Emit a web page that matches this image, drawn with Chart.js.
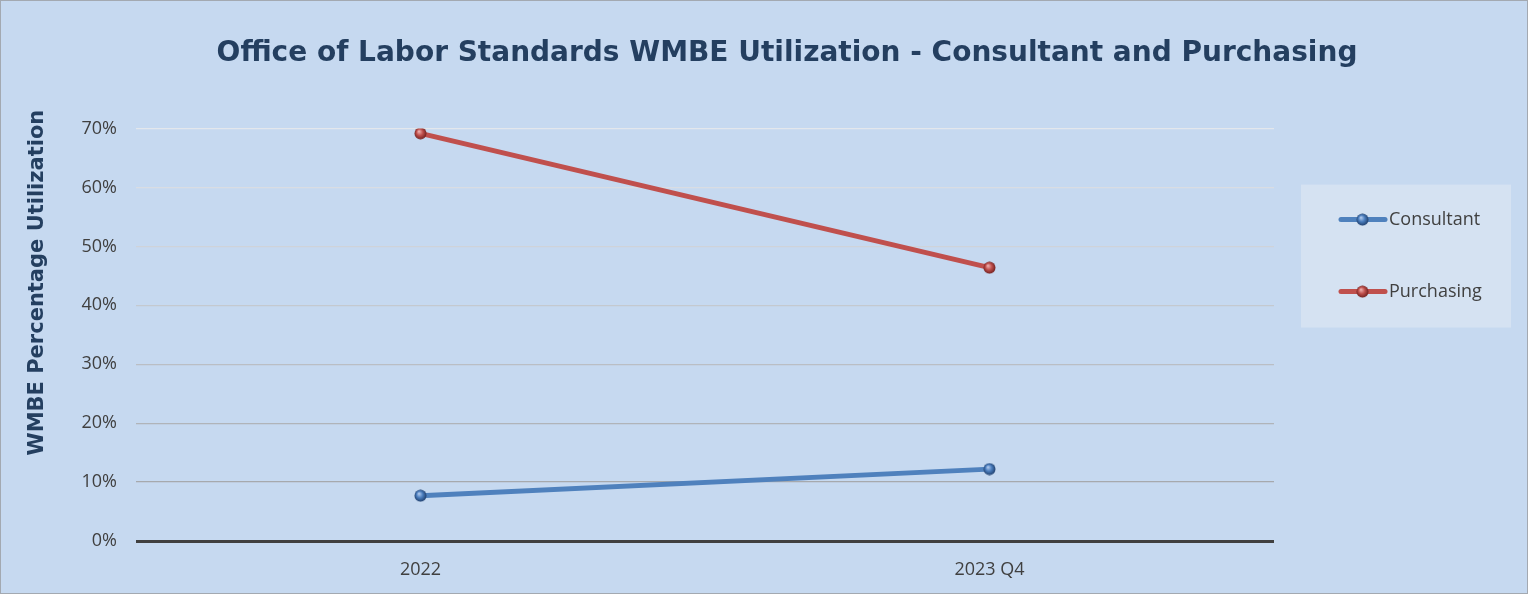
<!DOCTYPE html>
<html>
<head>
<meta charset="utf-8">
<style>
  html, body { margin: 0; padding: 0; background: #c6d9f0; }
  #wrap { width: 1528px; height: 594px; }
</style>
<script src="https://cdn.jsdelivr.net/npm/chart.js@4"></script>
</head>
<body>
<div id="wrap"><canvas id="chart" width="1528" height="594"></canvas></div>
<script>
// values
var categories = ['2022', '2023 Q4'];
var consultant = [0.077, 0.122];
var purchasing = [0.692, 0.464];
var yTicks = [0, 0.1, 0.2, 0.3, 0.4, 0.5, 0.6, 0.7];

var titleText = 'Office of Labor Standards WMBE Utilization - Consultant and Purchasing';
var yTitle = 'WMBE Percentage Utilization';

// small shaded ball used as the marker
function makeBall(base, dark, light) {
  var c = document.createElement('canvas');
  c.width = 13; c.height = 13;
  var g = c.getContext('2d');
  var grad = g.createRadialGradient(5, 4.5, 0.5, 6.5, 6.5, 6.5);
  grad.addColorStop(0, light);
  grad.addColorStop(0.45, base);
  grad.addColorStop(1, dark);
  g.fillStyle = grad;
  g.beginPath();
  g.arc(6.5, 6.5, 6, 0, Math.PI * 2);
  g.fill();
  return c;
}
var blueBall = makeBall('#4a7dbd', '#1c3a66', '#a9c4ea');
var redBall = makeBall('#c0504d', '#6a1c1a', '#eaa9a7');

// greys of the gridlines get darker toward the bottom
function gridColor(ctx) {
  var v = ctx.tick ? ctx.tick.value : 0;
  if (v === 0) return '#404040';
  var shades = ['#404040', '#a6a9ad', '#b0b4b9', '#babec4', '#c4c9cf', '#cfd3d9', '#d9dde3', '#e3e7ec'];
  return shades[Math.round(v * 10)] || '#e3e7ec';
}

var backdrop = {
  id: 'backdrop',
  afterLayout: function(chart) {
    // title sits a little right of the canvas centre
    chart.titleBlock.left += 46;
  },
  beforeDraw: function(chart) {
    var c = chart.ctx;
    c.save();
    c.fillStyle = '#c6d9f0';
    c.fillRect(0, 0, chart.width, chart.height);
    c.strokeStyle = '#a3a9b1';
    c.lineWidth = 1;
    c.strokeRect(0.5, 0.5, chart.width - 1, chart.height - 1);
    c.restore();
  },
  afterDraw: function(chart) {
    // vertical axis title
    var c = chart.ctx;
    c.save();
    c.translate(chart.scales.y.left + 38, chart.chartArea.top + 154);
    c.rotate(-Math.PI / 2);
    c.font = 'bold 21px "DejaVu Sans"';
    c.fillStyle = '#243f60';
    c.textAlign = 'center';
    c.textBaseline = 'middle';
    c.fillText(yTitle, 0, 0);
    c.restore();
  }
};

// legend box to the right of the plot
var sideLegend = {
  id: 'sideLegend',
  afterDraw: function(chart) {
    var c = chart.ctx;
    var area = chart.chartArea;
    var left = area.right + 27, top = area.top + 56, w = 210, h = 143;
    c.save();
    c.fillStyle = '#d5e2f2';
    c.fillRect(left, top, w, h);
    c.font = '18px "Open Sans"';
    c.textBaseline = 'middle';
    chart.data.datasets.forEach(function(ds, i) {
      var y = top + 35 + i * 72;
      c.strokeStyle = ds.borderColor;
      c.lineWidth = 5;
      c.lineCap = 'round';
      c.beginPath();
      c.moveTo(left + 40, y);
      c.lineTo(left + 84, y);
      c.stroke();
      c.drawImage(ds.pointStyle, left + 55, y - 6.5);
      c.fillStyle = '#404040';
      c.fillText(ds.label, left + 88, y);
    });
    c.restore();
  }
};

var config = {
  type: 'line',
  data: {
    labels: categories,
    datasets: [{
      label: 'Consultant',
      data: consultant,
      borderColor: '#4f81bd',
      borderWidth: 5,
      pointStyle: blueBall,
      pointRadius: 6,
      tension: 0
    }, {
      label: 'Purchasing',
      data: purchasing,
      borderColor: '#c0504d',
      borderWidth: 5,
      pointStyle: redBall,
      pointRadius: 6,
      tension: 0
    }]
  },
  options: {
    responsive: false,
    animation: false,
    layout: { padding: 0 },
    plugins: {
      legend: { display: false },
      tooltip: { enabled: false },
      title: {
        display: true,
        text: titleText,
        color: '#243f60',
        font: { family: 'DejaVu Sans', size: 28, weight: 'bold' },
        padding: { top: 37, bottom: 58 }
      }
    },
    scales: {
      x: {
        offset: true,
        grid: { display: false, drawTicks: false },
        border: { display: false },
        afterFit: function(scale) { scale.height = 53; },
        ticks: {
          color: '#404040',
          font: { family: 'Open Sans', size: 18 },
          padding: 18
        }
      },
      y: {
        min: 0,
        max: 0.7,
        afterFit: function(scale) { scale.width = 136; },
        afterBuildTicks: function(scale) {
          scale.ticks = yTicks.map(function(v) { return { value: v }; });
        },
        border: { display: false },
        grid: {
          drawTicks: false,
          color: gridColor,
          lineWidth: function(ctx) { return ctx.tick && ctx.tick.value === 0 ? 3 : 1.2; }
        },
        ticks: {
          color: '#404040',
          font: { family: 'Open Sans', size: 18 },
          padding: 19,
          callback: function(v) { return Math.round(v * 100) + '%'; }
        }
      },
      // empty space on the right that holds the legend box
      side: {
        type: 'linear',
        position: 'right',
        afterFit: function(scale) { scale.width = 254; },
        grid: { drawOnChartArea: false, drawTicks: false },
        border: { display: false },
        ticks: { display: false }
      }
    }
  },
  plugins: [backdrop, sideLegend]
};

new Chart(document.getElementById('chart').getContext('2d'), config);
</script>
</body>
</html>
